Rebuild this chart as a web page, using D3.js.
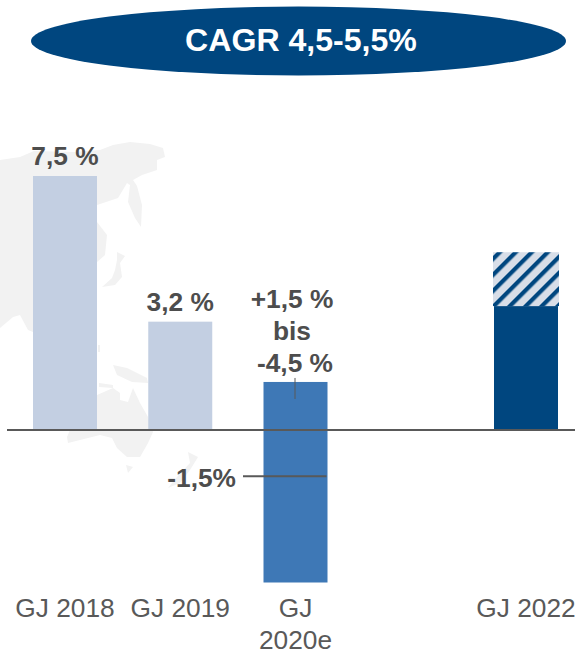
<!DOCTYPE html>
<html><head><meta charset="utf-8">
<script src="https://cdn.jsdelivr.net/npm/d3@7"></script>
<style>html,body{margin:0;padding:0;background:#fff}svg{display:block}text{font-family:"Liberation Sans",Arial,sans-serif}</style>
</head><body><div id="c"></div>
<script>
const categories = ["GJ 2018","GJ 2019","GJ 2020e","","GJ 2022"];
const pastCategories = ["GJ 2018","GJ 2019"];
const pastValues = [7.5,3.2];
const pastLabels = ["7,5 %","3,2 %"];
const guidanceCategory = "GJ 2020e";
const guidanceHigh = 1.42, guidanceLow = -4.5, guidanceMid = -1.36;
const guidanceLabels = ["+1,5 %","bis","-4,5 %"];
const guidanceMidLabel = "-1,5%";
const targetCategory = "GJ 2022";
const targetSolid = 3.66, targetHatchedTop = 5.25;
const headline = "CAGR 4,5-5,5%";

const W=575,H=651;
const svg=d3.select("#c").append("svg").attr("width",W).attr("height",H);
const x=d3.scaleBand().domain(categories).range([33,558]).paddingInner(0.4447).paddingOuter(0);
const y=d3.scaleLinear().domain([guidanceLow,pastValues[0]]).range([582.5,176]);
const ink="#4d4d4d", rule="#595959", pale="#c3cfe2", mid="#3e78b6", dark="#00467f", map="#f2f2f2";

// decorative backdrop map
const land=[
"M0,160L20,157L34,151L75,152L100,150L113,145L130,142L150,144L163,148L165,157L157,160L157,170L142,175L133,180L137,186L142,205L141,227L135,218L128,202L130,185L127,183L118,198L97,205L97,222L107,235L105,255L97,262L97,332L33,332L28,330L20,315L13,317L0,328Z",
"M117,252L125,256L120,263L122,277L115,285L102,287L112,278L115,270L117,260Z",
"M113,365L127,368L147,378L148,383L132,382L117,375Z",
"M98,345L100,345L100,352L98,352Z",
"M99,383L113,385L113,388L99,387Z",
"M70,430L85,405L97,395L113,388L120,393L120,400L128,402L133,388L140,403L148,417L153,432L148,443L140,457L127,457L117,448L112,438L100,435L68,443L67,437Z",
"M126,465L133,467L128,473Z",
"M188,452L198,457L190,470L180,483L168,488L177,477L190,463Z"];
svg.append("g").selectAll("path").data(land).join("path").attr("d",d=>d).attr("fill",map);

// headline ellipse
svg.append("ellipse").attr("cx",298.5).attr("cy",41).attr("rx",267.5).attr("ry",34.5).attr("fill",dark);
svg.append("text").attr("x",301).attr("y",51).attr("text-anchor","middle").attr("font-size",32.1).attr("font-weight",700).attr("fill","#fff").text(headline);

// hatch
const defs=svg.append("defs");
const p=defs.append("pattern").attr("id","hatch").attr("patternUnits","userSpaceOnUse")
 .attr("width",11.314).attr("height",11.314).attr("patternTransform","translate(497,252) rotate(45)");
p.append("rect").attr("width",11.314).attr("height",11.314).attr("fill","#d8dee8");
p.append("rect").attr("width",4.2).attr("height",11.314).attr("fill",dark);

// bars
svg.append("g").selectAll("rect").data(pastCategories).join("rect")
 .attr("x",d=>x(d)).attr("width",x.bandwidth())
 .attr("y",(d,i)=>y(pastValues[i])).attr("height",(d,i)=>y(0)-y(pastValues[i])).attr("fill",pale);
svg.append("rect").attr("x",x(guidanceCategory)).attr("width",x.bandwidth())
 .attr("y",y(guidanceHigh)).attr("height",y(guidanceLow)-y(guidanceHigh)).attr("fill",mid);
svg.append("rect").attr("x",x(targetCategory)).attr("width",x.bandwidth())
 .attr("y",y(targetSolid)).attr("height",y(0)-y(targetSolid)).attr("fill",dark);
svg.append("rect").attr("x",x(targetCategory)-1).attr("width",x.bandwidth()+2)
 .attr("y",y(targetHatchedTop)).attr("height",y(targetSolid)-y(targetHatchedTop)).attr("fill","url(#hatch)");

// zero line
svg.append("line").attr("x1",7).attr("x2",W).attr("y1",y(0)).attr("y2",y(0)).attr("stroke",rule).attr("stroke-width",2);

// leaders
const gc=x(guidanceCategory)+x.bandwidth()/2;
svg.append("line").attr("x1",gc-0.5).attr("x2",gc-0.5).attr("y1",y(guidanceHigh)-4).attr("y2",y(guidanceHigh)+17).attr("stroke",rule).attr("stroke-width",1);
svg.append("line").attr("x1",243).attr("x2",x(guidanceCategory)+x.bandwidth()-1).attr("y1",y(guidanceMid)).attr("y2",y(guidanceMid)).attr("stroke",rule).attr("stroke-width",2);

// value labels
const bold=(t,px,py,a="middle")=>svg.append("text").attr("x",px).attr("y",py).attr("text-anchor",a).attr("font-size",26.3).attr("font-weight",700).attr("fill",ink).text(t);
pastCategories.forEach((c,i)=>bold(pastLabels[i],x(c)+x.bandwidth()/2,y(pastValues[i])-11));
bold(guidanceLabels[0],292,308);
bold(guidanceLabels[1],292,340);
bold(guidanceLabels[2],295,372);
bold(guidanceMidLabel,236,487,"end");

// category labels
const catText=[["GJ 2018"],["GJ 2019"],["GJ","2020e"],[],["GJ 2022"]];
categories.forEach((c,i)=>{
 catText[i].forEach((t,j)=>svg.append("text").attr("x",x(c)+x.bandwidth()/2).attr("y",617+j*32)
  .attr("text-anchor","middle").attr("font-size",26.3).attr("fill","#595959").text(t));
});
</script></body></html>
